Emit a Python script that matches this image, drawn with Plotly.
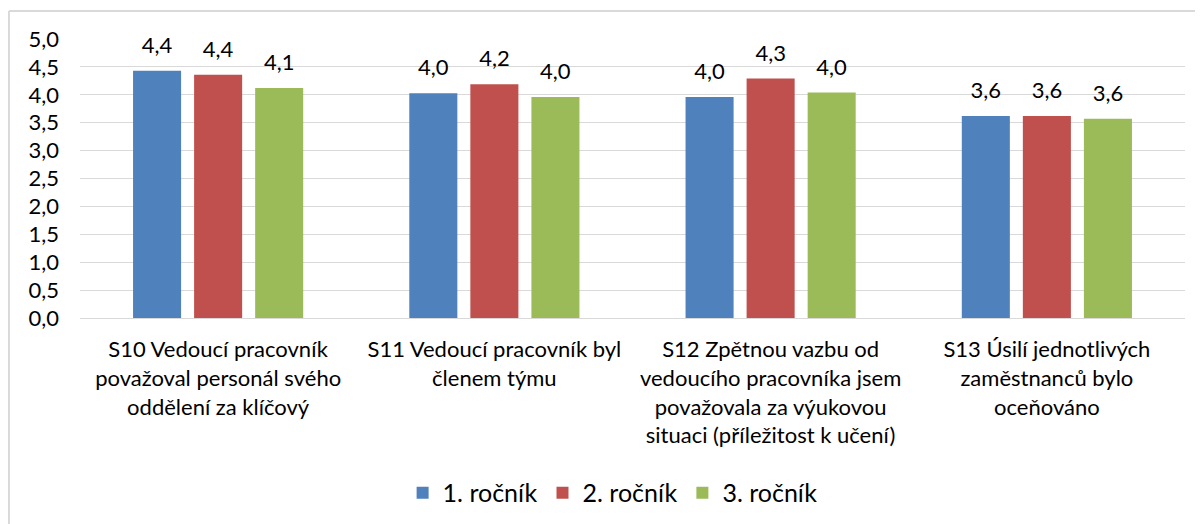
import plotly.graph_objects as go

categories = [
    "S10 Vedoucí pracovník<br>považoval personál svého<br>oddělení za klíčový",
    "S11 Vedoucí pracovník byl<br>členem týmu",
    "S12 Zpětnou vazbu od<br>vedoucího pracovníka jsem<br>považovala za výukovou<br>situaci (příležitost k učení)",
    "S13 Úsilí jednotlivých<br>zaměstnanců bylo<br>oceňováno",
]
series_names = ["1. ročník", "2. ročník", "3. ročník"]
rocnik1 = [4.43, 4.03, 3.96, 3.62]
rocnik2 = [4.36, 4.19, 4.29, 3.62]
rocnik3 = [4.12, 3.96, 4.04, 3.57]
colors = ["#4F81BD", "#C0504D", "#9BBB59"]
y_ticks = [0, 0.5, 1, 1.5, 2, 2.5, 3, 3.5, 4, 4.5, 5]

FONT = "Lato, Liberation Sans, sans-serif"

fig = go.Figure()
for name, vals, col in zip(series_names, [rocnik1, rocnik2, rocnik3], colors):
    fig.add_trace(go.Bar(
        x=categories, y=vals, name=name,
        marker=dict(color=col, line=dict(width=0)),
        texttemplate="<span style='font-size:22px'>%{y:.1f}</span><br> ",
        textposition="outside",
        textfont=dict(family=FONT, size=10, color="#000000"),
        cliponaxis=False,
    ))

fig.update_layout(
    width=1203, height=524,
    margin=dict(l=72, r=26, t=31, b=214),
    paper_bgcolor="white", plot_bgcolor="white",
    separators=", ",
    barmode="group", bargap=0.337, bargroupgap=0.213,
    font=dict(family=FONT, size=22, color="#000000"),
    showlegend=True,
    legend=dict(orientation="h", x=0.482, xanchor="center", y=-0.627, yanchor="middle",
                font=dict(family=FONT, size=25, color="#000000"),
                itemwidth=30, traceorder="normal"),
    xaxis=dict(showgrid=False, showline=True, linecolor="#D9D9D9", linewidth=1,
               ticks="", ticklabelstandoff=12,
               tickfont=dict(family=FONT, size=22, color="#000000")),
    yaxis=dict(range=[0, 5], tickvals=y_ticks, tickformat=".1f",
               showgrid=True, gridcolor="#D9D9D9", gridwidth=1,
               zeroline=False, showline=False, ticks="",
               tickfont=dict(family=FONT, size=22, color="#000000"),
               ticklabelstandoff=20),
    shapes=[
        dict(type="line", xref="paper", yref="paper", x0=-0.0643, x1=1.05, y0=1.1004, y1=1.1004,
             line=dict(color="#D9D9D9", width=2)),
        dict(type="line", xref="paper", yref="paper", x0=-0.0643, x1=-0.0643, y0=1.1004, y1=-0.8,
             line=dict(color="#D9D9D9", width=2)),
    ],
)

fig.write_html("out.html")
